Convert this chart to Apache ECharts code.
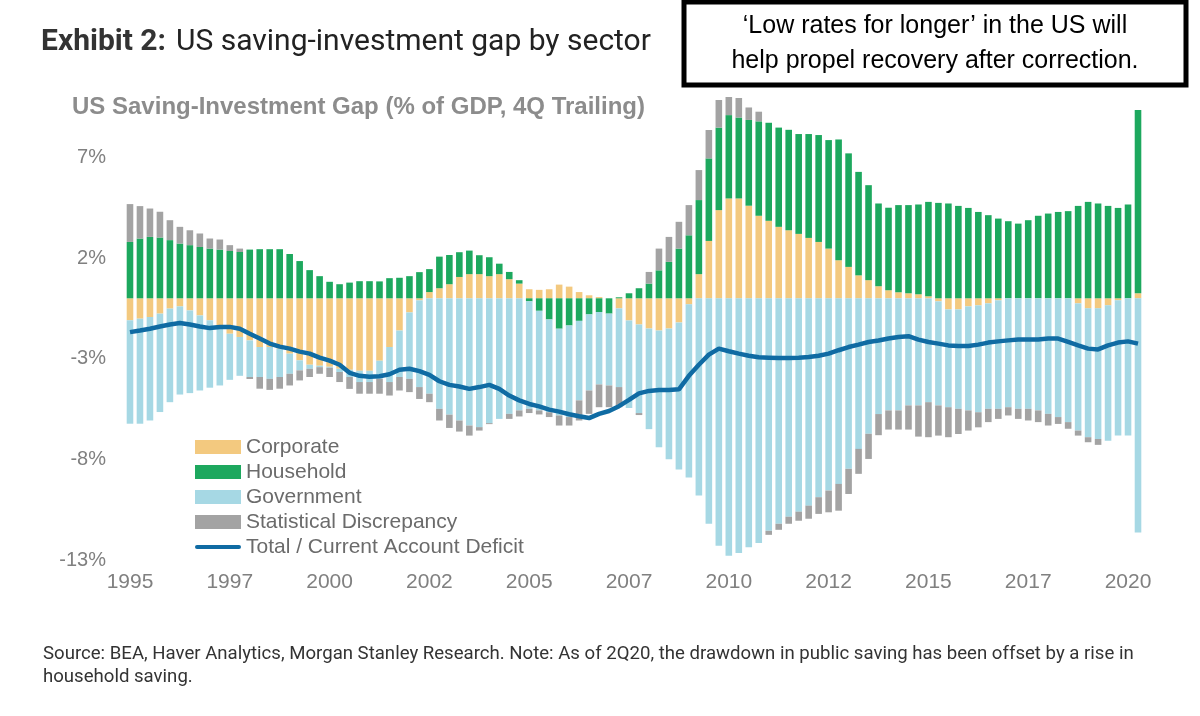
<!DOCTYPE html>
<html>
<head>
<meta charset="utf-8">
<script src="https://cdn.jsdelivr.net/npm/echarts@6/dist/echarts.min.js"></script>
<style>
  html, body { margin: 0; padding: 0; background: #fff; }
  #chart { width: 1200px; height: 716px; }
</style>
</head>
<body>
<div id="chart"></div>
<script>
// quarterly categories, 1995Q1 .. 2020Q2
const quarters = [];
for (let y = 1995; y <= 2020; y++) {
    for (let q = 1; q <= 4; q++) {
        if (y === 2020 && q > 2) break;
        quarters.push(y + "Q" + q);
    }
}

// % of GDP
const corporate = [
    -1.09, -1.01, -0.93, -0.76, -0.51, -0.40, -0.60, -0.85, -1.09, -1.43,
    -1.76, -1.92, -2.09, -2.42, -2.42, -2.50, -2.75, -3.08, -3.30, -3.35,
    -3.40, -3.50, -3.55, -3.60, -3.60, -3.10, -2.42, -1.60, -0.70, -0.10,
    0.31, 0.50, 0.70, 1.06, 1.20, 1.20, 1.10, 1.20, 0.95, 0.73,
    0.45, 0.42, 0.45, 0.68, 0.58, 0.31, 0.15, 0.06, 0.00, -0.50,
    -1.10, -1.30, -1.50, -1.60, -1.50, -1.20, -0.30, 1.20, 2.85, 4.38,
    4.96, 4.96, 4.60, 4.10, 3.85, 3.55, 3.38, 3.20, 3.00, 2.80,
    2.47, 1.89, 1.56, 1.14, 0.90, 0.60, 0.40, 0.30, 0.25, 0.20,
    0.10, -0.15, -0.55, -0.55, -0.40, -0.35, -0.25, -0.10, 0.00, 0.00,
    0.00, 0.00, 0.00, 0.00, 0.00, -0.25, -0.50, -0.50, -0.35, -0.10,
    0.00, 0.25
];
const household = [
    2.80, 2.97, 3.05, 3.02, 2.89, 2.72, 2.64, 2.55, 2.47, 2.42,
    2.35, 2.30, 2.42, 2.44, 2.44, 2.44, 2.20, 1.85, 1.40, 1.10,
    0.82, 0.70, 0.78, 0.85, 0.85, 0.84, 1.00, 1.02, 1.10, 1.30,
    1.14, 1.57, 1.45, 1.23, 1.17, 0.94, 0.94, 0.52, 0.36, 0.17,
    -0.15, -0.62, -1.05, -1.51, -1.35, -1.12, -0.80, -0.68, -0.76, 0.05,
    0.25, 0.50, 0.73, 1.39, 1.81, 2.47, 3.13, 3.68, 4.10, 4.10,
    4.14, 4.02, 4.26, 4.69, 4.87, 4.93, 4.99, 4.96, 5.16, 5.31,
    5.39, 6.00, 5.64, 5.14, 4.72, 4.11, 4.10, 4.33, 4.38, 4.46,
    4.69, 4.74, 4.71, 4.59, 4.49, 4.29, 4.13, 3.96, 3.83, 3.71,
    3.88, 4.10, 4.21, 4.29, 4.33, 4.59, 4.79, 4.71, 4.59, 4.49,
    4.66, 9.10
];
const government = [
    -5.14, -5.22, -5.14, -4.89, -4.65, -4.38, -4.11, -3.73, -3.35, -2.90,
    -2.29, -1.93, -1.82, -1.49, -1.58, -1.41, -1.00, -0.50, -0.20, -0.07,
    -0.05, -0.16, -0.36, -0.56, -0.56, -0.90, -1.74, -2.31, -3.30, -4.31,
    -4.74, -5.49, -5.78, -6.07, -6.32, -6.40, -6.20, -5.99, -5.74, -5.57,
    -5.34, -4.95, -4.61, -4.31, -4.55, -3.95, -3.78, -3.60, -3.57, -3.91,
    -4.35, -4.40, -5.00, -5.80, -6.50, -7.30, -8.60, -9.80, -11.20, -12.29,
    -12.79, -12.65, -12.37, -12.15, -11.55, -11.20, -10.85, -10.60, -10.30, -9.88,
    -9.55, -9.22, -8.47, -7.48, -6.73, -5.75, -5.57, -5.57, -5.32, -5.32,
    -5.16, -5.17, -4.86, -4.94, -5.17, -5.31, -5.24, -5.39, -5.41, -5.49,
    -5.49, -5.57, -5.74, -5.90, -6.15, -6.32, -6.40, -6.49, -6.72, -6.72,
    -6.82, -11.63
];
const discrepancy = [
    1.88, 1.61, 1.41, 1.28, 0.99, 0.83, 0.74, 0.67, 0.50, 0.50,
    0.29, 0.17, -0.10, -0.58, -0.55, -0.58, -0.58, -0.50, -0.41, -0.33,
    -0.46, -0.50, -0.59, -0.58, -0.58, -0.74, -0.67, -0.67, -0.66, -0.59,
    -0.42, -0.58, -0.66, -0.55, -0.50, -0.17, -0.05, 0.00, -0.25, -0.30,
    -0.21, -0.20, -0.24, -0.50, -0.42, -1.00, -1.16, -1.13, -1.08, -1.00,
    0.00, -0.10, 0.58, 1.08, 1.24, 1.33, 1.50, 1.49, 1.41, 1.37,
    0.92, 0.97, 0.62, 0.48, -0.20, -0.30, -0.35, -0.45, -0.65, -0.83,
    -1.08, -1.33, -1.25, -1.24, -1.25, -1.05, -0.95, -0.95, -1.20, -1.55,
    -1.74, -1.50, -1.49, -1.25, -1.00, -0.75, -0.66, -0.50, -0.41, -0.50,
    -0.58, -0.58, -0.58, -0.34, -0.33, -0.25, -0.25, -0.29, 0.00, 0.00,
    0.00, 0.00
];
const total = [
    -1.68, -1.60, -1.51, -1.40, -1.30, -1.23, -1.30, -1.40, -1.48, -1.43,
    -1.42, -1.51, -1.76, -2.00, -2.25, -2.40, -2.50, -2.65, -2.75, -2.95,
    -3.10, -3.30, -3.70, -3.85, -3.90, -3.87, -3.77, -3.55, -3.50, -3.62,
    -3.80, -4.12, -4.30, -4.38, -4.50, -4.41, -4.30, -4.50, -4.83, -5.07,
    -5.25, -5.37, -5.53, -5.63, -5.76, -5.86, -5.95, -5.74, -5.60, -5.36,
    -5.05, -4.72, -4.60, -4.55, -4.55, -4.52, -3.85, -3.30, -2.80, -2.50,
    -2.63, -2.75, -2.85, -2.93, -2.95, -2.97, -2.97, -2.95, -2.92, -2.85,
    -2.75, -2.58, -2.42, -2.30, -2.17, -2.10, -2.00, -1.92, -1.88, -2.05,
    -2.17, -2.25, -2.34, -2.37, -2.37, -2.30, -2.20, -2.14, -2.09, -2.05,
    -2.05, -2.05, -2.00, -2.00, -2.17, -2.34, -2.50, -2.54, -2.34, -2.20,
    -2.14, -2.25
];

const yTicks = [-13, -8, -3, 2, 7];

const seriesNames = ["Corporate", "Household", "Government", "Statistical Discrepancy", "Total / Current Account Deficit"];
const colors = ["#F3C97F", "#1DA85E", "#A6D8E4", "#A3A3A3", "#0F6BA3"];

const labelFont = '"Liberation Sans", Arial, sans-serif';

const chart = echarts.init(document.getElementById("chart"));

function barSeries(name, data, color) {
    return {
        name: name,
        type: "bar",
        stack: "gap",
        data: data,
        itemStyle: { color: color },
        barCategoryGap: "34%",
    };
}

const options = {
    animation: false,
    backgroundColor: "#fff",
    title: [
        {
            text: "{b|Exhibit 2:}  {r|US saving-investment gap by sector}",
            left: 36,
            top: 22,
            textStyle: {
                rich: {
                    b: { fontFamily: "Roboto", fontWeight: "bold", fontSize: 30, color: "#333" },
                    r: { fontFamily: "Roboto", fontWeight: "normal", fontSize: 30, color: "#222" },
                },
            },
        },
        {
            text: "US Saving-Investment Gap (% of GDP, 4Q Trailing)",
            left: 67,
            top: 90,
            textStyle: { fontFamily: labelFont, fontWeight: "bold", fontSize: 24, color: "#8c8c8c" },
        },
        {
            text: "Source: BEA, Haver Analytics, Morgan Stanley Research. Note: As of 2Q20, the drawdown in public saving has been offset by a rise in\nhousehold saving.",
            left: 38,
            top: 638,
            textStyle: { fontFamily: "Roboto", fontWeight: "normal", fontSize: 18.6, color: "#333", lineHeight: 23 },
        },
    ],
    graphic: [
        {
            type: "rect",
            shape: { x: 684, y: 2, width: 502, height: 83 },
            style: { fill: "#fff", stroke: "#000", lineWidth: 5 },
        },
        {
            type: "text",
            x: 935,
            y: 44,
            style: {
                text: "‘Low rates for longer’ in the US will\nhelp propel recovery after correction.",
                fontFamily: labelFont,
                fontSize: 25,
                lineHeight: 35,
                fill: "#000",
                align: "center",
                verticalAlign: "middle",
            },
        },
    ],
    legend: {
        orient: "vertical",
        left: 190,
        top: 431,
        itemWidth: 46,
        itemHeight: 14,
        itemGap: 3,
        textStyle: { fontFamily: labelFont, fontSize: 21, color: "#6b6b6b", lineHeight: 22 },
        data: [
            { name: seriesNames[0], icon: "rect" },
            { name: seriesNames[1], icon: "rect" },
            { name: seriesNames[2], icon: "rect" },
            { name: seriesNames[3], icon: "rect" },
            { name: seriesNames[4], icon: "path://M2,0 L44,0 A2,2 0 0 1 44,4 L2,4 A2,2 0 0 1 2,0 Z" },
        ],
    },
    grid: { left: 125, right: 57, top: 97, bottom: 156 },
    xAxis: {
        type: "category",
        data: quarters,
        axisLine: { show: false },
        axisTick: { show: false },
        axisLabel: {
            interval: 9,
            formatter: (v) => v.slice(0, 4),
            fontFamily: labelFont,
            fontSize: 21,
            color: "#808080",
            margin: 12,
        },
    },
    yAxis: {
        type: "value",
        min: -13,
        max: 10,
        interval: 1,
        splitLine: { show: false },
        axisLine: { show: false },
        axisTick: { show: false },
        axisLabel: {
            formatter: (v) => (yTicks.indexOf(v) >= 0 ? v + "%" : ""),
            fontFamily: labelFont,
            fontSize: 20,
            color: "#808080",
            margin: 19,
        },
    },
    series: [
        barSeries(seriesNames[0], corporate, colors[0]),
        barSeries(seriesNames[1], household, colors[1]),
        barSeries(seriesNames[2], government, colors[2]),
        barSeries(seriesNames[3], discrepancy, colors[3]),
        {
            name: seriesNames[4],
            type: "line",
            data: total,
            symbol: "none",
            z: 5,
            lineStyle: { width: 4.5, color: colors[4] },
            itemStyle: { color: colors[4] },
        },
    ],
};

chart.setOption(options);
window.addEventListener("resize", () => {
    chart.resize();
});
</script>
</body>
</html>
